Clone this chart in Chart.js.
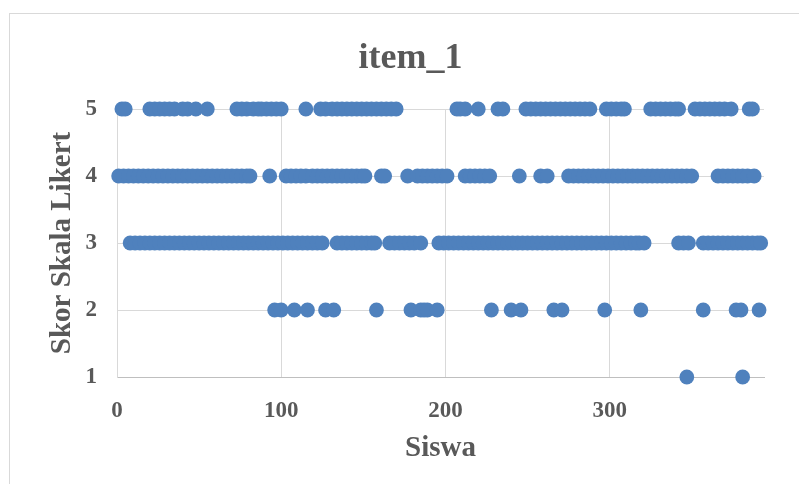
<!DOCTYPE html>
<html>
<head>
<meta charset="utf-8">
<script src="https://cdn.jsdelivr.net/npm/chart.js@4.4.1/dist/chart.umd.min.js"></script>
<style>
  html, body { margin: 0; padding: 0; background: #ffffff; }
  #wrap { position: relative; width: 799px; height: 484px; overflow: hidden; }
  #frame { position: absolute; left: 9px; top: 13px; width: 800px; height: 480px; border: 1px solid #d9d9d9; box-sizing: border-box; }
  #c { position: absolute; left: 0; top: 0; }
</style>
</head>
<body>
<div id="wrap">
  <div id="frame"></div>
  <canvas id="c" width="799" height="484"></canvas>
</div>
<script>
const chartTitle = "item_1";
const xAxisTitle = "Siswa";
const yAxisTitle = "Skor Skala Likert";
const xTickValues = [0, 100, 200, 300];
const yTickValues = [1, 2, 3, 4, 5];
const xMin = 0, xMax = 394;
const yMin = 1, yMax = 5;

// x positions (student index) for each Likert score
const score5 = [3, 5, 20, 23, 26, 29, 32, 35, 40, 43, 48, 55, 73, 76, 79, 83, 86, 88, 91, 94, 97, 100,
  115, 124, 127, 131, 134, 137, 140, 143, 146, 149, 152, 155, 158, 161, 164, 167, 170,
  207, 209, 212, 220, 232, 235, 249, 252, 255, 258, 261, 264, 267, 270, 273, 276, 279, 282, 285, 288,
  298, 301, 304, 307, 309, 325, 328, 331, 334, 337, 340, 342, 352, 355, 358, 361, 364, 367, 370, 374, 385, 387];
const score4 = [1, 4, 7, 10, 13, 16, 19, 22, 25, 28, 31, 34, 37, 40, 43, 46, 49, 52, 55, 58, 61, 64, 67, 70, 73, 76, 79, 81,
  93, 103, 106, 109, 112, 115, 119, 122, 125, 128, 131, 134, 137, 140, 143, 146, 149, 151, 161, 163,
  177, 183, 186, 189, 192, 195, 198, 201, 212, 215, 218, 221, 224, 227, 245, 258, 262,
  275, 278, 281, 284, 287, 290, 293, 296, 299, 302, 305, 308, 311, 314, 317, 320, 323, 326, 329, 332, 335, 338, 341, 344, 347, 350,
  366, 369, 372, 375, 378, 381, 384, 388];
const score3 = [8, 11, 14, 17, 20, 23, 26, 29, 32, 35, 38, 41, 44, 47, 50, 53, 56, 59, 62, 65, 68, 71, 74, 77, 80, 83, 86, 89, 92, 95,
  98, 101, 104, 107, 110, 113, 116, 119, 122, 125, 134, 137, 140, 143, 146, 149, 152, 155, 157,
  166, 169, 172, 175, 178, 181, 185, 196, 199, 202, 205, 208, 211, 214, 217, 220, 223, 226, 229, 232, 235, 238, 241,
  244, 247, 250, 253, 256, 259, 262, 265, 268, 271, 274, 277, 280, 283, 286, 289, 292, 295, 298, 301, 304, 307, 310, 313, 316, 318, 321,
  342, 345, 348, 357, 360, 363, 366, 369, 372, 375, 378, 381, 384, 387, 390, 392];
const score2 = [96, 100, 108, 116, 127, 132, 158, 179, 185, 187, 189, 195, 228, 240, 246, 266, 271, 297, 319, 357, 377, 380, 391];
const score1 = [347, 381];

const groups = [[5, score5], [4, score4], [3, score3], [2, score2], [1, score1]];
const points = [];
groups.forEach(([y, xs]) => xs.forEach(x => points.push({ x: x, y: y })));

const textColor = "#595959";
const serif = "'Liberation Serif', 'Times New Roman', serif";

new Chart(document.getElementById("c"), {
  type: "scatter",
  data: {
    datasets: [{
      data: points,
      backgroundColor: "#4f81bd",
      borderWidth: 0,
      pointRadius: 7.4,
      pointHoverRadius: 7.4,
      clip: false
    }]
  },
  options: {
    responsive: false,
    animation: false,
    events: [],
    layout: { padding: { left: 57, right: 35, top: 0, bottom: 0 } },
    plugins: {
      legend: { display: false },
      tooltip: { enabled: false },
      title: {
        display: true,
        text: chartTitle,
        color: textColor,
        font: { family: serif, size: 36, weight: "bold", lineHeight: 1.2 },
        padding: { top: 37, bottom: 28.8 }
      }
    },
    scales: {
      x: {
        type: "linear",
        min: xMin, max: xMax,
        afterBuildTicks: s => { s.ticks = xTickValues.map(v => ({ value: v })); },
        afterFit: s => { s.height = 107; },
        grid: { color: "#d9d9d9", lineWidth: 1, drawTicks: false },
        border: { color: "#bfbfbf", width: 1 },
        ticks: { color: textColor, padding: 20, font: { family: serif, size: 23, weight: "bold" } },
        title: {
          display: true, text: xAxisTitle, color: textColor,
          font: { family: serif, size: 29, weight: "bold", lineHeight: 1.2 },
          padding: { top: 0, bottom: 18 }
        }
      },
      y: {
        type: "linear",
        min: yMin, max: yMax,
        afterBuildTicks: s => { s.ticks = yTickValues.map(v => ({ value: v })); },
        afterFit: s => { s.width = 60; },
        grid: { color: "#d9d9d9", lineWidth: 1, drawTicks: false },
        border: { color: "#d9d9d9", width: 1 },
        ticks: { color: textColor, padding: 20, font: { family: serif, size: 23, weight: "bold" } },
        title: {
          display: true, text: yAxisTitle, color: textColor,
          font: { family: serif, size: 29, weight: "bold", lineHeight: 1.2 },
          padding: { top: -11.5, bottom: 0 }
        }
      }
    }
  }
});
</script>
</body>
</html>
